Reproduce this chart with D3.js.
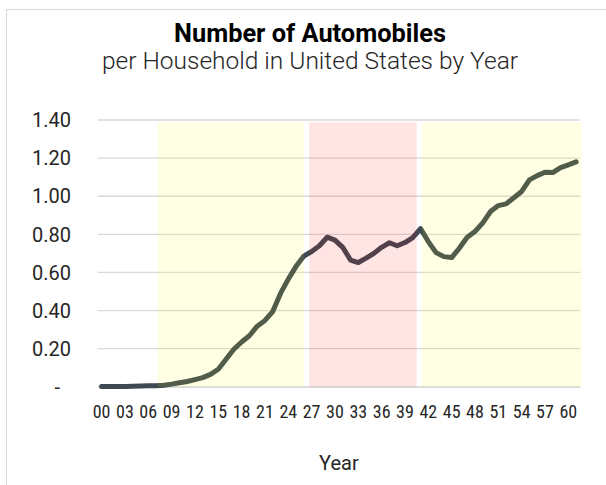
<!DOCTYPE html>
<html>
<head>
<meta charset="utf-8">
<script src="https://cdn.jsdelivr.net/npm/d3@7"></script>
<style>
html,body{margin:0;padding:0;background:#fff;}
svg{display:block;}
</style>
</head>
<body>
<svg id="chart" width="606" height="485"></svg>
<script>
// ---- data ----
const years = d3.range(1900, 1962);
const carsPerHousehold = [
  0.001, 0.001, 0.002, 0.002, 0.003, 0.004, 0.005, 0.006, 0.008, 0.014,
  0.021, 0.028, 0.038, 0.048, 0.065, 0.092, 0.145, 0.197, 0.235, 0.268,
  0.318, 0.348, 0.395, 0.49, 0.565, 0.632, 0.686, 0.71, 0.74, 0.785,
  0.77, 0.732, 0.665, 0.652, 0.675, 0.70, 0.732, 0.756, 0.740, 0.757,
  0.783, 0.830, 0.762, 0.704, 0.683, 0.678, 0.728, 0.785, 0.815, 0.860,
  0.920, 0.951, 0.960, 0.992, 1.025, 1.086, 1.108, 1.126, 1.124, 1.150,
  1.165, 1.180
];
const yTicks = [0, 0.2, 0.4, 0.6, 0.8, 1.0, 1.2, 1.4];
const xTickYears = d3.range(1900, 1962, 3);
// shaded eras (years, continuous) and their shading height (value units)
const eraStart = [1907.2, 1926.7, 1941.2];
const eraEnd   = [1926.0, 1940.5, 1961.7];
const eraKind  = ["growth", "depression", "growth"];
const eraTop = 1.388;

const titleText = "Number of Automobiles";
const subtitleText = "per Household in United States by Year";
const xAxisTitle = "Year";

// ---- layout ----
const svg = d3.select("#chart");
const plot = {left: 97.7, right: 580, top: 120, bottom: 386.8};
const eraColor = {growth: "rgba(255,255,0,0.105)", depression: "rgba(255,0,0,0.105)"};

// chart frame
svg.append("rect").attr("x", 6.5).attr("y", 9.5).attr("width", 640).attr("height", 520)
  .attr("fill", "#fff").attr("stroke", "#d9d9d9").attr("stroke-width", 1);

const x = d3.scaleBand().domain(years).range([plot.left, plot.right]).padding(0);
const xc = d3.scaleLinear().domain([1899.5, 1961.5]).range([plot.left, plot.right]);
const y = d3.scaleLinear().domain([0, 1.4]).range([plot.bottom, plot.top]);

// gridlines
svg.append("g").selectAll("line").data(yTicks).join("line")
  .attr("x1", plot.left).attr("x2", plot.right)
  .attr("y1", d => y(d)).attr("y2", d => y(d))
  .attr("stroke", "#d9d9d9").attr("stroke-width", 1.3);

// y axis labels
const fmt = d3.format(".2f");
svg.append("g").selectAll("text").data(yTicks).join("text")
  .attr("x", d => d === 0 ? 60 : 71)
  .attr("y", d => y(d))
  .attr("dy", "0.36em")
  .attr("text-anchor", "end")
  .attr("font-family", "Roboto, 'Liberation Sans', sans-serif")
  .attr("font-size", 20)
  .attr("fill", "#262626")
  .text(d => d === 0 ? "-" : fmt(d));

// x axis
const xAxis = d3.axisBottom(x).tickValues(xTickYears)
  .tickFormat(d => String(d % 100).padStart(2, "0")).tickSize(0).tickPadding(18);
const gx = svg.append("g").attr("transform", `translate(0,${plot.bottom})`).call(xAxis);
gx.select(".domain").attr("stroke", "#d9d9d9").attr("stroke-width", 1.3);
gx.selectAll("text").attr("font-family", "'Liberation Sans Narrow', 'Roboto Condensed', sans-serif")
  .attr("font-size", 18).attr("fill", "#262626");

// line
const line = d3.line().x((d, i) => x(years[i]) + x.bandwidth() / 2).y(d => y(d));
svg.append("path").datum(carsPerHousehold)
  .attr("d", line).attr("fill", "none")
  .attr("stroke", "#3e4954").attr("stroke-width", 5)
  .attr("stroke-linejoin", "round").attr("stroke-linecap", "round");

// eras overlay
svg.append("g").selectAll("rect").data(eraStart).join("rect")
  .attr("x", (d, i) => xc(d))
  .attr("width", (d, i) => xc(eraEnd[i]) - xc(d))
  .attr("y", y(eraTop))
  .attr("height", y(0) - y(eraTop))
  .attr("fill", (d, i) => eraColor[eraKind[i]]);

// titles
svg.append("text").attr("x", 310).attr("y", 42).attr("text-anchor", "middle")
  .attr("font-family", "Roboto, sans-serif").attr("font-weight", "bold").attr("font-size", 25.4)
  .attr("fill", "#000").text(titleText);
svg.append("text").attr("x", 310).attr("y", 69).attr("text-anchor", "middle")
  .attr("font-family", "Roboto, sans-serif").attr("font-weight", 300).attr("font-size", 24.5)
  .attr("fill", "#262626").text(subtitleText);
svg.append("text").attr("x", (plot.left + plot.right) / 2).attr("y", 470).attr("text-anchor", "middle")
  .attr("font-family", "Roboto, sans-serif").attr("font-size", 20)
  .attr("fill", "#262626").text(xAxisTitle);
</script>
</body>
</html>
